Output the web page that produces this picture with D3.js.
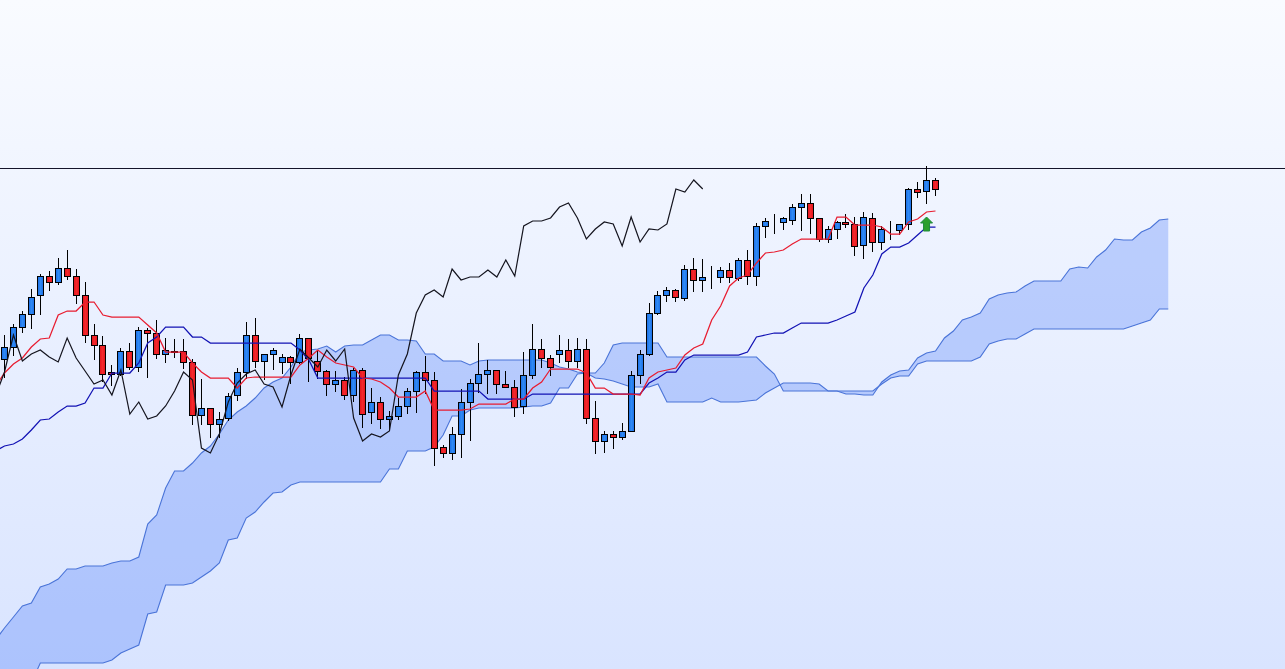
<!DOCTYPE html>
<html lang="en">
<head>
    <meta charset="UTF-8">
    <title>Ichimoku candlestick chart</title>
    <script src="https://d3js.org/d3.v7.min.js"></script>
    <style>
        html, body { margin: 0; padding: 0; overflow: hidden; }
        svg { display: block; }
        .wick { stroke: #000; stroke-width: 1px; shape-rendering: crispEdges; }
        .body { stroke: #000; stroke-width: 1px; shape-rendering: crispEdges; }
        .cloud-edge { fill: none; stroke: #4a74d8; stroke-width: 1.1px; }
        .tenkan { fill: none; stroke: #e81c30; stroke-width: 1.25px; }
        .kijun { fill: none; stroke: #1212b4; stroke-width: 1.25px; }
        .chikou { fill: none; stroke: #14141e; stroke-width: 1.2px; }
    </style>
</head>
<body>
    <svg id="chart" width="1285" height="669"></svg>

    <script>
        // Candles, bar 0 to bar 104 (price in chart units)
        var opens = [310,322,342,355,374,393,387,401,393,374,
                     334,324,297,295,318,302,339,336,315,317,
                     318,307,254,261,245,251,274,297,334,308,
                     315,307,312,307,331,308,298,285,289,274,
                     299,257,267,250,253,263,278,297,289,222,
                     216,235,267,286,295,299,285,282,263,294,
                     320,311,315,319,308,320,251,228,235,232,
                     238,294,315,356,374,379,371,400,389,392,
                     392,399,391,409,393,443,448,447,449,462,
                     466,451,430,440,447,445,424,451,427,439,
                     439,445,480,478,489];
        var highs = [335,346,359,381,396,399,412,420,401,388,
                     346,334,305,322,327,343,342,350,332,331,
                     331,311,291,262,258,277,302,348,352,315,
                     322,316,314,336,331,319,300,299,293,302,
                     302,282,273,259,272,282,299,314,298,225,
                     243,281,291,327,310,299,299,290,318,346,
                     331,315,335,331,332,331,269,239,239,247,
                     299,320,367,379,383,381,405,412,411,404,
                     403,407,412,420,447,452,456,453,466,476,
                     476,451,444,449,456,453,458,457,444,449,
                     446,482,488,504,492];
        var lows = [292,314,337,341,355,379,385,390,366,327,
                    310,288,284,294,300,298,292,311,307,312,
                    301,245,245,232,232,249,269,291,302,290,
                    300,296,286,306,288,291,274,278,270,268,
                    242,246,241,239,250,256,257,276,204,212,
                    210,212,229,277,276,276,282,253,256,291,
                    302,294,307,302,302,246,216,217,221,230,
                    238,286,314,355,368,368,369,378,378,381,
                    387,387,389,385,384,432,436,440,445,439,
                    436,428,427,431,442,414,411,418,420,430,
                    435,440,472,466,474];
        var closes = [322,342,355,372,393,387,401,393,374,334,
                      324,295,295,318,302,339,336,315,319,318,
                      307,254,261,245,250,273,297,334,308,315,
                      319,312,307,331,311,298,285,289,274,299,
                      255,267,250,253,263,278,297,289,221,216,
                      235,267,286,295,299,285,282,262,294,320,
                      311,302,319,308,320,251,228,235,232,238,
                      294,315,356,374,379,372,400,389,392,392,
                      399,392,409,393,443,448,448,451,462,466,
                      451,430,440,447,445,423,452,427,440,439,
                      445,480,477,489,480];

        // Indicator lines start one bar left of the window (bar -1)
        var lineStart = -1;
        var tenkan = [283,
                      296,305,311,322,330,331,354,358,358,367,
                      367,354,352,352,352,352,344,336,317,317,
                      317,306,297,291,291,291,281,291,292,292,
                      292,292,292,304,311,319,312,306,304,302,
                      291,290,287,281,272,272,272,278,259,259,
                      259,259,260,265,265,265,265,270,270,281,
                      287,300,300,300,300,296,281,281,275,275,
                      275,274,291,297,299,301,314,321,325,349,
                      363,383,391,394,406,416,417,419,425,430,
                      430,430,430,452,452,444,444,444,442,435,
                      435,447,450,457,458];
        var kijun = [218,
                     223,225,230,239,249,250,257,263,263,266,
                     281,281,296,296,296,306,326,332,342,342,
                     342,332,332,326,326,326,326,326,326,326,
                     326,326,326,319,309,291,291,291,291,291,
                     291,291,291,291,291,291,291,291,278,278,
                     278,278,278,278,270,270,270,270,270,275,
                     275,275,275,275,275,275,275,275,275,275,
                     275,275,286,291,297,297,309,314,314,314,
                     314,314,314,317,332,334,336,336,341,346,
                     346,346,346,349,353,357,381,394,415,422,
                     422,426,434,442,442];
        // Cloud spans run 26 bars past the last candle (bar -1 to bar 130)
        var spanA = [29,
                     41,52,63,66,82,85,90,100,100,103,
                     103,103,106,108,108,112,145,154,181,198,
                     198,206,216,223,235,249,257,263,271,281,
                     287,291,302,317,319,320,323,317,323,324,
                     324,329,334,334,329,329,328,315,315,308,
                     308,308,304,308,309,309,309,309,309,309,
                     309,306,302,300,297,296,291,290,288,285,
                     282,282,282,285,267,267,267,267,267,271,
                     267,267,267,268,269,276,281,286,286,286,
                     286,285,278,278,275,275,274,274,287,294,
                     298,299,311,316,318,331,338,349,352,356,
                     370,374,376,377,383,388,388,388,388,400,
                     402,401,412,419,430,429,429,437,441,449,
                     450];
        var spanB = [-66,
                     -56,-46,-31,-14,6,6,6,6,6,6,
                     6,6,9,16,20,24,55,57,84,84,
                     84,86,92,98,106,129,131,151,157,167,
                     176,177,184,187,187,187,187,187,187,187,
                     187,187,187,200,200,218,218,218,222,234,
                     253,253,259,261,261,261,261,261,262,263,
                     263,266,281,281,295,296,296,306,324,326,
                     326,326,326,326,312,312,312,312,312,312,
                     312,312,312,312,312,303,295,278,278,278,
                     278,278,278,278,278,278,278,278,285,291,
                     293,293,305,308,308,308,308,308,308,312,
                     325,328,330,330,335,340,340,340,340,340,
                     340,340,340,340,340,340,343,346,349,360,
                     360];

        // Chikou span is the close moved 26 bars back
        var chikouShift = 26;

        // Signal arrow and the reference level across the chart
        var arrowBar = [103];
        var arrowTip = [452];
        var arrowFoot = [438];
        var levelLine = [501];

        var width = 1285, height = 669;

        var x = d3.scaleLinear().domain([0, 104]).range([4.5, 935.5]);
        var y = d3.scaleLinear().domain([0, 669]).range([669, 0]);

        var svg = d3.select("#chart");
        var defs = svg.append("defs");

        // Background gradient
        var bg = defs.append("linearGradient")
            .attr("id", "bg")
            .attr("x1", 0).attr("y1", 0).attr("x2", 0).attr("y2", 1);
        bg.append("stop").attr("offset", "0%").attr("stop-color", "#f9fbff");
        bg.append("stop").attr("offset", "100%").attr("stop-color", "#d9e4ff");

        // Candle bodies are slightly lighter in the middle
        var bodyGradient = function(id, edge, middle) {
            var g = defs.append("linearGradient").attr("id", id);
            g.append("stop").attr("offset", "0%").attr("stop-color", edge);
            g.append("stop").attr("offset", "50%").attr("stop-color", middle);
            g.append("stop").attr("offset", "100%").attr("stop-color", edge);
        };
        bodyGradient("up", "#1c6ce4", "#2f8af4");
        bodyGradient("down", "#e0141c", "#f4282c");

        svg.append("rect")
            .attr("width", width)
            .attr("height", height)
            .attr("fill", "url(#bg)");

        // Cloud
        var cloudData = spanA.map(function(a, i) {
            return {bar: i + lineStart, a: a, b: spanB[i]};
        });

        svg.append("path")
            .datum(cloudData)
            .attr("fill", "rgb(70,120,250)")
            .attr("fill-opacity", 0.3)
            .attr("d", d3.area()
                .x(function(d) { return x(d.bar); })
                .y0(function(d) { return y(d.a); })
                .y1(function(d) { return y(d.b); }));

        var cloudLine = function(key) {
            return d3.line()
                .x(function(d) { return x(d.bar); })
                .y(function(d) { return y(d[key]); });
        };

        svg.append("path").datum(cloudData).attr("class", "cloud-edge").attr("d", cloudLine("a"));
        svg.append("path").datum(cloudData).attr("class", "cloud-edge").attr("d", cloudLine("b"));

        // Level line
        svg.append("line")
            .attr("x1", 0)
            .attr("x2", width)
            .attr("y1", y(levelLine[0]) + 0.5)
            .attr("y2", y(levelLine[0]) + 0.5)
            .attr("stroke", "#14142a")
            .attr("stroke-width", 1)
            .style("shape-rendering", "crispEdges");

        // Candles
        var candles = opens.map(function(o, i) {
            return {bar: i, open: o, high: highs[i], low: lows[i], close: closes[i]};
        });

        var snap = function(bar) { return Math.round(x(bar) - 0.5) + 0.5; };

        var candle = svg.append("g").selectAll("g")
            .data(candles)
            .enter().append("g");

        candle.append("line")
            .attr("class", "wick")
            .attr("x1", function(d) { return snap(d.bar); })
            .attr("x2", function(d) { return snap(d.bar); })
            .attr("y1", function(d) { return y(d.high) + 0.5; })
            .attr("y2", function(d) { return y(d.low) + 0.5; });

        candle.append("rect")
            .attr("class", "body")
            .attr("x", function(d) { return snap(d.bar) - 3; })
            .attr("width", 6)
            .attr("y", function(d) { return y(Math.max(d.open, d.close)) + 0.5; })
            .attr("height", function(d) { return Math.abs(d.open - d.close); })
            .attr("fill", function(d) { return d.close >= d.open ? "url(#up)" : "url(#down)"; });

        // Indicator lines
        var indicator = d3.line()
            .x(function(d, i) { return x(i + lineStart); })
            .y(function(d) { return y(d); });

        svg.append("path").datum(kijun).attr("class", "kijun").attr("d", indicator);
        svg.append("path").datum(tenkan).attr("class", "tenkan").attr("d", indicator);

        // Chikou, bar -1 is close of bar 25
        svg.append("path")
            .datum(closes.slice(chikouShift - 1))
            .attr("class", "chikou")
            .attr("d", indicator);

        // Signal arrow
        var ax = x(arrowBar[0]), top0 = y(arrowTip[0]), foot = y(arrowFoot[0]);
        svg.append("path")
            .attr("d", d3.line()([
                [ax, top0], [ax + 6, top0 + 6], [ax + 3, top0 + 6], [ax + 3, foot],
                [ax - 3, foot], [ax - 3, top0 + 6], [ax - 6, top0 + 6]
            ]) + "Z")
            .attr("fill", "#2ca02c")
            .attr("stroke", "#1f8a3c")
            .attr("stroke-width", 1);
    </script>
</body>
</html>
